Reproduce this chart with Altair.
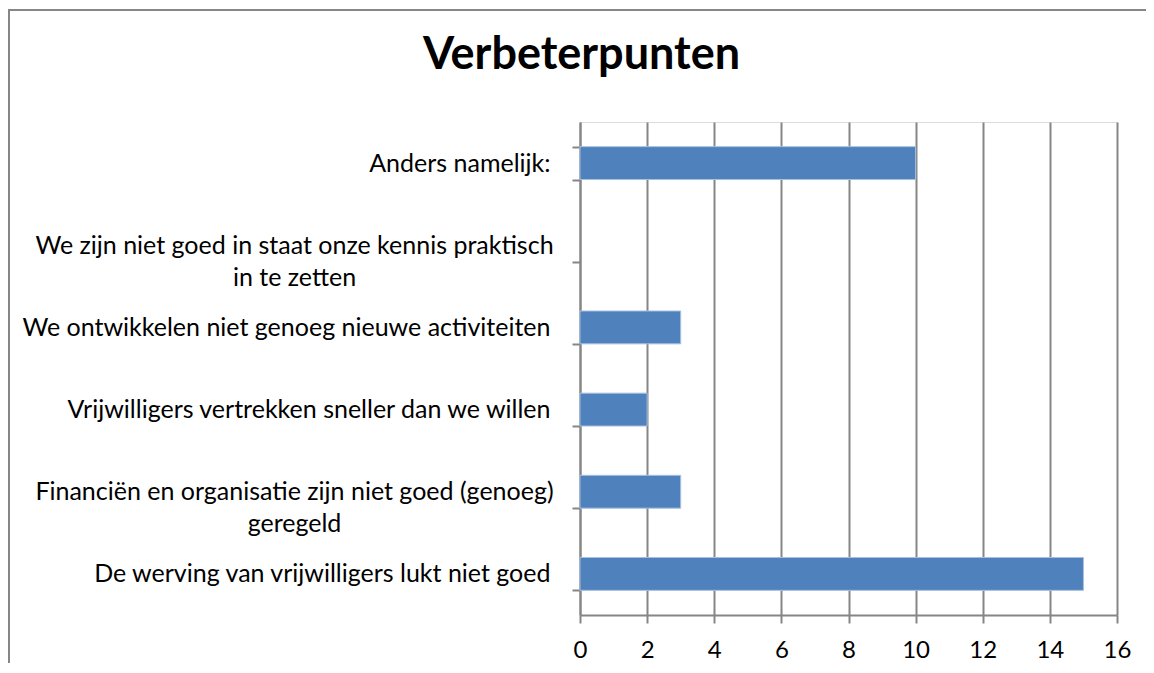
import altair as alt
import pandas as pd

categories = [
    "Anders namelijk:",
    "We zijn niet goed in staat onze kennis praktisch in te zetten",
    "We ontwikkelen niet genoeg nieuwe activiteiten",
    "Vrijwilligers vertrekken sneller dan we willen",
    "Financiën en organisatie zijn niet goed (genoeg) geregeld",
    "De werving van vrijwilligers lukt niet goed",
]
values = [10, 0, 3, 2, 3, 15]
x_ticks = [0, 2, 4, 6, 8, 10, 12, 14, 16]
label_lines = {
    "We zijn niet goed in staat onze kennis praktisch in te zetten": [
        "We zijn niet goed in staat onze kennis praktisch", "in te zetten"],
    "Financiën en organisatie zijn niet goed (genoeg) geregeld": [
        "Financiën en organisatie zijn niet goed (genoeg)", "geregeld"],
}

df = pd.DataFrame({"category": categories, "value": values})

GRAY = "#868686"
FONT = "Lato"

# label expression that splits the two long labels into two lines
expr = "datum.label"
for full, lines in label_lines.items():
    arr = "[" + ", ".join("'" + l + "'" for l in lines) + "]"
    expr = f"datum.value == '{full}' ? {arr} : ({expr})"
multi_test = " || ".join(f"datum.value == '{k}'" for k in label_lines)

y_axis = alt.Axis(
    title=None,
    labelExpr=expr,
    labelFont=FONT,
    labelFontSize=25,
    labelColor="black",
    labelLineHeight=32,
    labelAlign={"condition": {"test": multi_test, "value": "center"}, "value": "right"},
    labelPadding={"condition": {"test": multi_test, "value": 278}, "value": 22},
    labelLimit=0,
    tickBand="extent",
    tickSize=8,
    tickColor=GRAY,
    tickWidth=2,
    domainColor=GRAY,
    domainWidth=2,
    grid=False,
)

x_axis = alt.Axis(
    title=None,
    values=x_ticks,
    labelFont=FONT,
    labelFontSize=24,
    labelColor="black",
    labelPadding=15,
    labelFlush=False,
    tickSize=8,
    tickColor=GRAY,
    tickWidth=2,
    domainColor=GRAY,
    domainWidth=2,
    grid=True,
    gridColor=GRAY,
    gridWidth=2,
)

bars = alt.Chart(df).mark_bar(color="#4F81BD", stroke="#A7C0DE", strokeWidth=1).encode(
    x=alt.X("value:Q", scale=alt.Scale(domain=[0, 16], nice=False), axis=x_axis),
    y=alt.Y("category:N", sort=categories,
            scale=alt.Scale(paddingInner=0.6, paddingOuter=0.3), axis=y_axis),
    opacity=alt.condition("datum.value > 0", alt.value(1), alt.value(0)),
)

frame = alt.Chart(alt.Data(values=[{}])).mark_rect(
    fill=None, stroke=GRAY, strokeWidth=2
).encode(
    x=alt.value(-571), x2=alt.value(620),
    y=alt.value(-112), y2=alt.value(600),
)

chart = alt.layer(frame, bars).properties(
    width=537,
    height=493,
    title=alt.TitleParams(
        text="Verbeterpunten", font=FONT, fontSize=45, fontWeight="bold",
        color="black", anchor="middle", frame="group", dx=-267,
        baseline="alphabetic", offset=-105,
    ),
    autosize=alt.AutoSizeParams(type="none"),
    padding={"left": 572, "top": 114, "right": 29, "bottom": 48},
).configure_view(stroke=None).configure(background="white")

chart.save("out.html", embed_options={"renderer": "svg", "actions": False})
